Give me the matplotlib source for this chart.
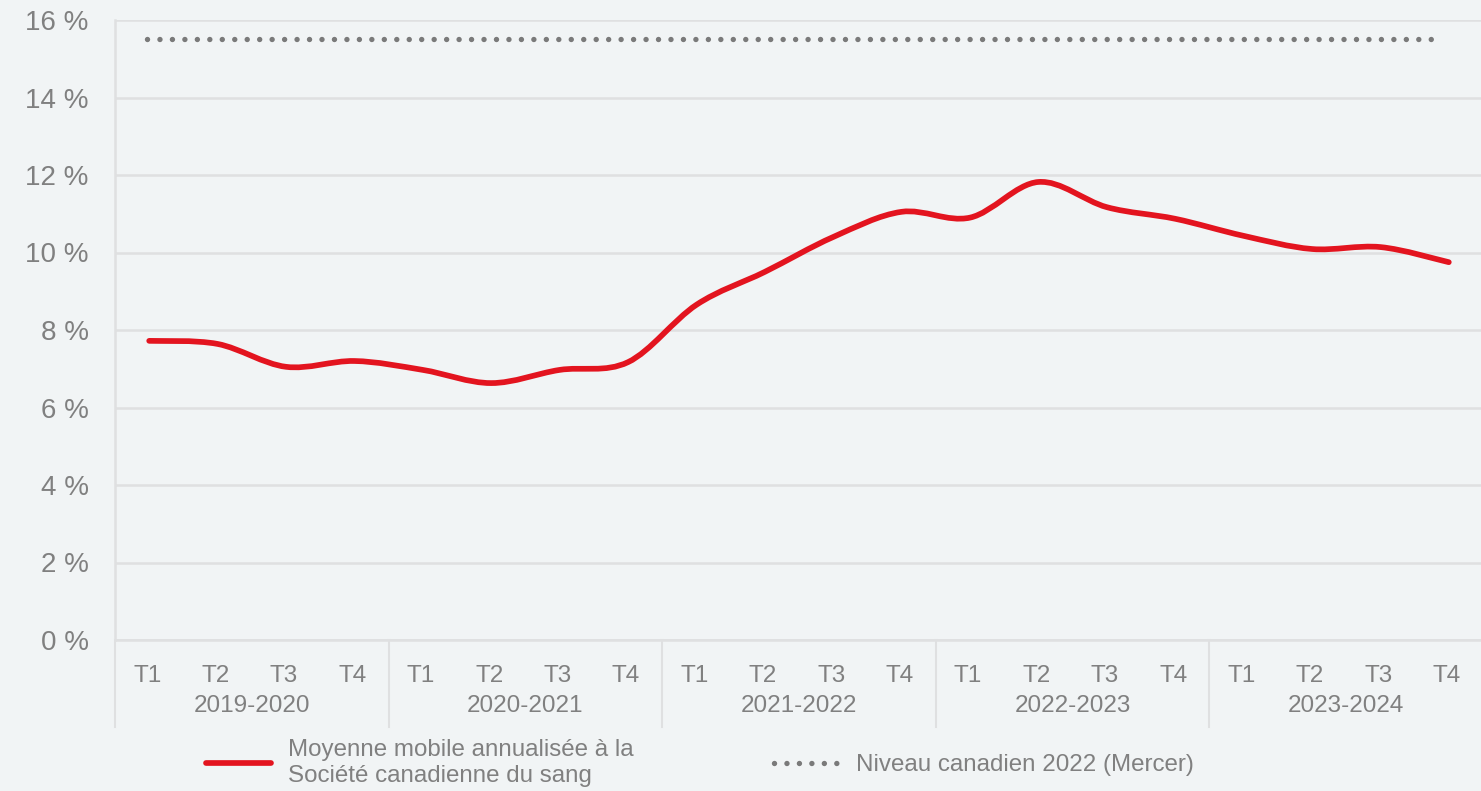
import matplotlib
matplotlib.use("Agg")
import matplotlib.pyplot as plt
from matplotlib.path import Path
from matplotlib.patches import PathPatch
from matplotlib.lines import Line2D
import matplotlib.transforms as mtrans

plt.rcParams['font.family'] = ['Liberation Sans', 'DejaVu Sans']

years = ["2019-2020", "2020-2021", "2021-2022", "2022-2023", "2023-2024"]
quarters = ["T1", "T2", "T3", "T4"]
rate = [7.72, 7.64, 7.05, 7.20, 6.97, 6.63, 6.97, 7.17,
        8.65, 9.50, 10.40, 11.05, 10.90, 11.82, 11.17, 10.87,
        10.43, 10.09, 10.14, 9.75]
canada_2022 = 15.5
yticks = [0, 2, 4, 6, 8, 10, 12, 14, 16]

label_main = "Moyenne mobile annualisée à la\nSociété canadienne du sang"
label_ref = "Niveau canadien 2022 (Mercer)"

BG = '#f1f4f5'
RED = '#e3141f'
GREY_TXT = '#808080'
GRID = '#dfe0e1'
DOT = '#7a7a7a'

W, H = 1481, 791
fig = plt.figure(figsize=(W / 100, H / 100), dpi=100, facecolor=BG)
ax = fig.add_axes([115 / W, 1 - 640 / H, 1368 / W, 620 / H], facecolor=BG)

n = len(rate)
xs = list(range(n))

# smoothed line (Excel-like Catmull-Rom bezier)
verts = [(xs[0], rate[0])]
codes = [Path.MOVETO]
for i in range(n - 1):
    p0 = (xs[i - 1], rate[i - 1]) if i > 0 else (xs[i], rate[i])
    p1 = (xs[i], rate[i])
    p2 = (xs[i + 1], rate[i + 1])
    p3 = (xs[i + 2], rate[i + 2]) if i + 2 < n else p2
    c1 = (p1[0] + (p2[0] - p0[0]) / 6, p1[1] + (p2[1] - p0[1]) / 6)
    c2 = (p2[0] - (p3[0] - p1[0]) / 6, p2[1] - (p3[1] - p1[1]) / 6)
    verts += [c1, c2, p2]
    codes += [Path.CURVE4] * 3
patch = PathPatch(Path(verts, codes), facecolor='none', edgecolor=RED,
                  lw=4.1, capstyle='round', joinstyle='round', zorder=3)
ax.add_patch(patch)
main_handle = Line2D([], [], color=RED, lw=4.1, solid_capstyle='round')

ref_line, = ax.plot([xs[0] - 0.03, xs[-1] - 0.1], [canada_2022, canada_2022],
                    color=DOT, lw=3.9, linestyle=(0, (0.001, 2.3)),
                    dash_capstyle='round', zorder=2)

ax.set_xlim(-0.5, n - 0.5)
ax.set_ylim(0, 16)
ax.set_yticks(yticks)
ax.set_yticklabels([f"{v} %" for v in yticks])
ax.yaxis.grid(True, color=GRID, lw=1.8)
ax.set_axisbelow(True)
ax.tick_params(axis='y', length=0, pad=19, labelsize=20, labelcolor=GREY_TXT)
ax.tick_params(axis='x', length=0, labelbottom=False)
ax.set_xticks([])
for s in ['top', 'right']:
    ax.spines[s].set_visible(False)
ax.spines['left'].set_color(GRID)
ax.spines['left'].set_linewidth(1.8)
ax.spines['bottom'].set_color(GRID)
ax.spines['bottom'].set_linewidth(1.8)

trans = mtrans.blended_transform_factory(ax.transData, ax.transAxes)
for i in range(n):
    ax.text(xs[i] - 0.03, -36 / 620, quarters[i % 4], transform=trans,
            ha='center', va='center', fontsize=17.5, color=GREY_TXT)
for g, yr in enumerate(years):
    ax.text(g * 4 + 1.5, -66 / 620, yr, transform=trans, ha='center',
            va='center', fontsize=17.5, color=GREY_TXT)
for g in range(len(years) + 1):
    ax.plot([g * 4 - 0.5, g * 4 - 0.5], [0, -87 / 620], transform=trans,
            color=GRID, lw=1.5, clip_on=False)

leg = fig.legend([main_handle, ref_line], [label_main, label_ref], ncol=2,
                 loc='center', bbox_to_anchor=(700 / W, 1 - 763 / H),
                 frameon=False, fontsize=17.4, labelcolor=GREY_TXT,
                 handlelength=2.7, handletextpad=0.7, columnspacing=5.8)
for t in leg.get_texts():
    t.set_linespacing(1.25)

fig.savefig("out.png", dpi=100, facecolor=BG)
